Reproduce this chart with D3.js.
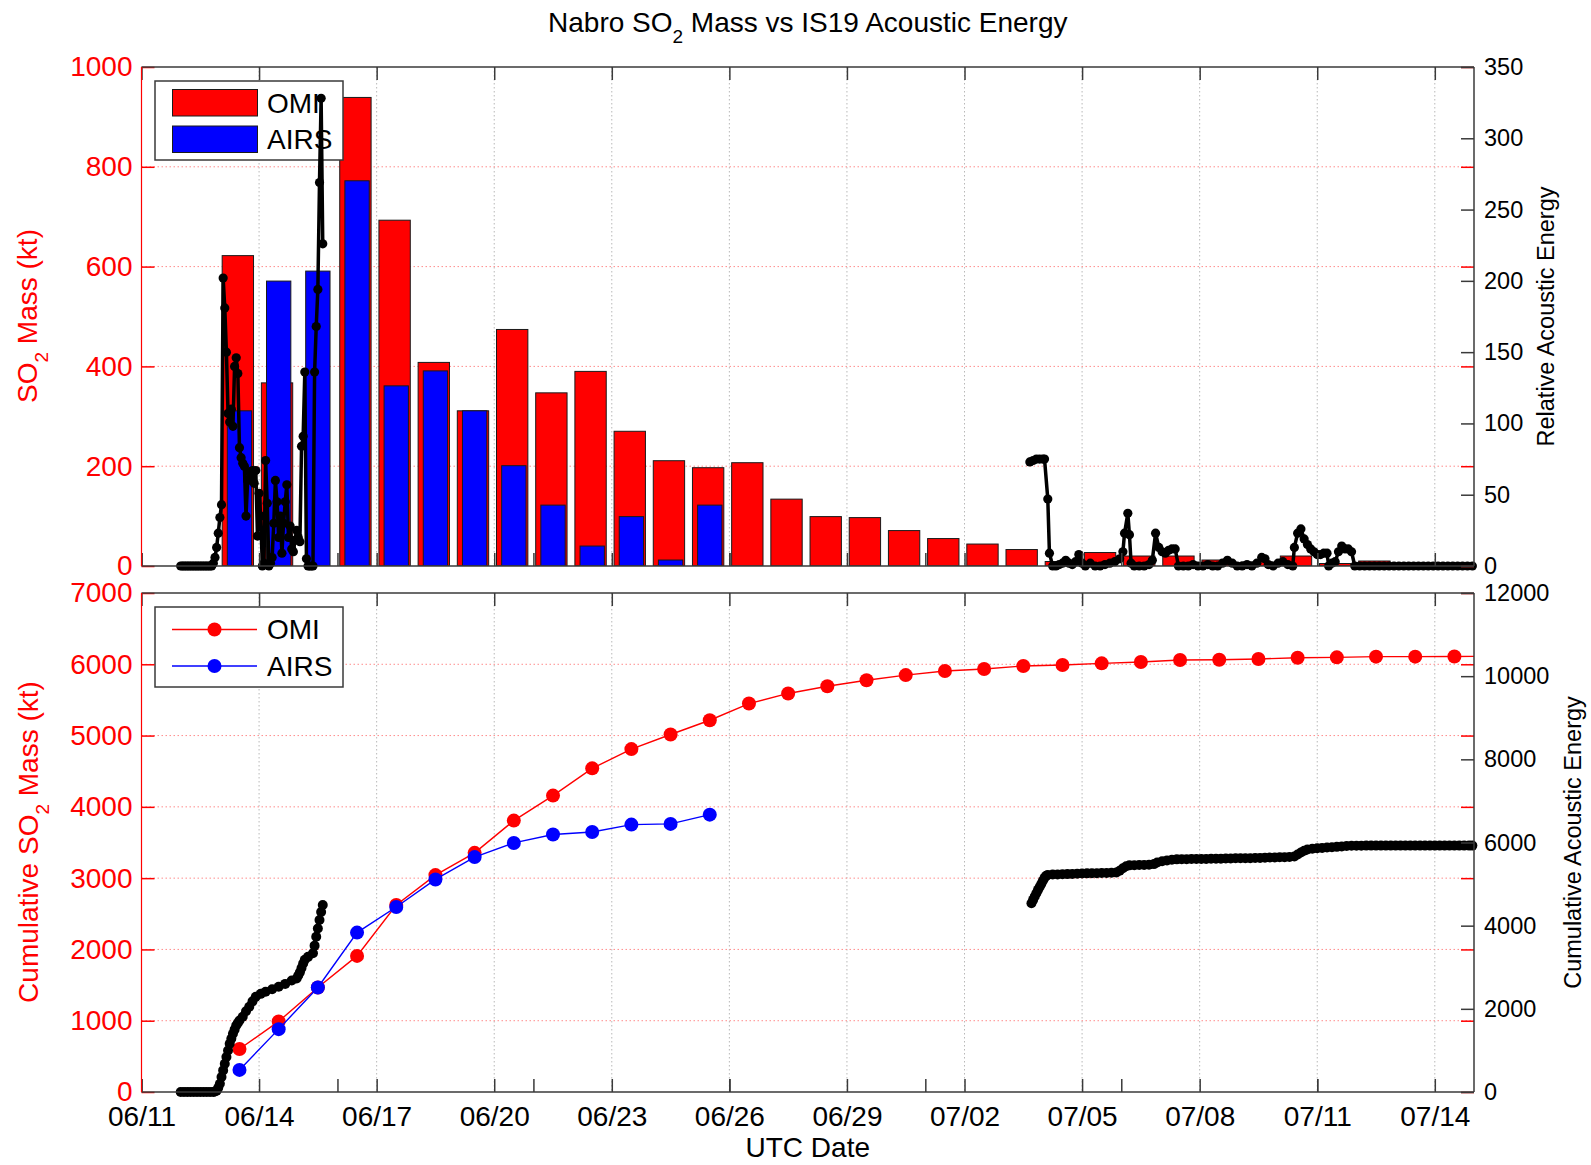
<!DOCTYPE html>
<html>
<head>
<meta charset="utf-8">
<script src="https://cdnjs.cloudflare.com/ajax/libs/d3/7.8.5/d3.min.js"></script>
<style>
	body { margin: 0; background: #fff; }
	svg { display: block; font-family: 'Liberation Sans', Arial, sans-serif; }
</style>
</head>
<body>
<div id="chart"></div>
<script>
// one entry per UTC day, SO2 mass in kt (null = no retrieval)
const barDays = ['2011-06-13', '2011-06-14', '2011-06-15', '2011-06-16', '2011-06-17', '2011-06-18',
	'2011-06-19', '2011-06-20', '2011-06-21', '2011-06-22', '2011-06-23', '2011-06-24', '2011-06-25',
	'2011-06-26', '2011-06-27', '2011-06-28', '2011-06-29', '2011-06-30', '2011-07-01', '2011-07-02',
	'2011-07-03', '2011-07-04', '2011-07-05', '2011-07-06', '2011-07-07', '2011-07-08', '2011-07-09',
	'2011-07-10', '2011-07-11', '2011-07-12', '2011-07-13', '2011-07-14', '2011-07-15']
const omiDaily = [622, 367, null, 939, 693, 408, 311, 474, 347, 390, 270, 211, 197, 207, 134, 99, 97,
	71, 55, 44, 33, 9, 27, 20, 20, 12, 8, 20, 5, 10, 0, 3, null]
const airsDaily = [311, 571, 591, 772, 361, 391, 311, 201, 122, 40, 99, 12, 122]
const omiCumulative = [603, 990, 1466, 1909, 2623, 3043, 3355, 3807, 4158, 4540, 4810, 5015, 5215,
	5449, 5591, 5691, 5776, 5848, 5905, 5933, 5976, 5989, 6013, 6032, 6060, 6064, 6074, 6092, 6097,
	6107, 6107, 6110, 6112]
const airsCumulative = [310, 882, 1466, 2236, 2595, 2982, 3295, 3494, 3612, 3648, 3751, 3761, 3891]

// IS19 acoustic energy: [hours after 2011-06-11 00:00 UTC, value]
const relEnergyJune = [[24, 0], [25, 0], [26, 0], [27, 0], [28, 0], [29, 0], [30, 0], [31, 0], [32, 0],
	[33, 0], [34, 0], [35, 0], [36, 0], [37, 0], [38, 0], [39, 0], [40, 0], [41, 0], [42, 0], [43, 0],
	[44, 2], [45, 6], [46, 13], [47, 23], [48, 34], [49, 43], [50, 202], [51, 181], [52, 150], [53, 107],
	[54, 101], [55, 110], [56, 98], [57, 140], [58, 146], [59, 135], [60, 83], [61, 76], [62, 72],
	[63, 70], [64, 35], [65, 60], [66, 66], [67, 62], [68, 67], [69, 58], [70, 67], [71, 21], [72, 51],
	[73, 35], [74, 0], [75, 2], [76, 74], [77, 44], [78, 0], [79, 2], [80, 6], [81, 30], [82, 60],
	[83, 45], [84, 20], [85, 35], [86, 9], [87, 30], [88, 45], [89, 57], [90, 20], [91, 28], [92, 12],
	[93, 10], [94, 18], [95, 25], [96, 20], [97, 17], [98, 84], [99, 91], [100, 136], [101, 5],
	[102, 0], [103, 0], [104, 0], [105, 0], [106, 136], [107, 168], [108, 194], [109, 269], [110, 328],
	[111, 226]]
const relEnergyJuly = [[544, 73], [546, 74], [548, 75], [550, 75], [552, 75], [553, 75], [555, 47],
	[556, 9], [558, 0], [560, 0], [562, 1], [564, 2], [566, 4], [568, 2], [570, 1], [572, 3], [574, 8],
	[576, 2], [578, 0], [581, 2], [584, 0], [587, 0], [590, 1], [593, 2], [596, 3], [599, 5], [601, 10],
	[602, 23], [604, 37], [605, 22], [606, 2], [608, 0], [611, 0], [614, 0], [617, 1], [619, 4],
	[621, 23], [623, 13], [625, 10], [627, 9], [629, 11], [631, 12], [633, 12], [635, 0], [638, 0],
	[641, 0], [644, 1], [647, 0], [650, 0], [653, 1], [656, 0], [659, 0], [662, 2], [665, 4], [668, 2],
	[671, 0], [674, 0], [677, 1], [680, 0], [683, 2], [686, 6], [688, 5], [690, 1], [693, 0], [696, 2],
	[699, 3], [702, 1], [705, 0], [706, 13], [708, 23], [710, 26], [712, 19], [714, 15], [716, 12],
	[718, 10], [720, 8], [722, 8], [724, 9], [726, 9], [727, 0], [729, 2], [731, 3], [733, 10],
	[735, 14], [737, 12], [739, 12], [741, 10], [743, 0], [746, 0], [749, 0], [752, 0], [755, 0],
	[758, 0], [761, 0], [764, 0], [767, 0], [770, 0], [773, 0], [776, 0], [779, 0], [782, 0], [785, 0],
	[788, 0], [791, 0], [794, 0], [797, 0], [800, 0], [803, 0], [806, 0], [809, 0], [812, 0], [815, 0]]
const cumEnergyJune = [[24, 0], [26, 0], [28, 0], [30, 0], [32, 0], [34, 0], [36, 0], [38, 0], [40, 0],
	[42, 0], [44, 0], [45, 10], [46, 30], [47, 100], [48, 200], [49, 360], [50, 520], [51, 680],
	[52, 840], [53, 1000], [54, 1160], [55, 1280], [56, 1400], [57, 1500], [58, 1600], [59, 1660],
	[60, 1720], [62, 1810], [64, 1940], [66, 2050], [68, 2180], [70, 2290], [73, 2360], [76, 2410],
	[80, 2470], [84, 2530], [88, 2600], [92, 2680], [95, 2730], [96, 2800], [97, 2880], [98, 2980],
	[99, 3090], [100, 3180], [102, 3250], [105, 3335], [106, 3520], [107, 3735], [108, 3930],
	[109, 4137], [110, 4330], [111, 4497]]
const cumEnergyJuly = [[545, 4540], [546, 4620], [547, 4700], [548, 4780], [549, 4860], [550, 4930],
	[551, 5000], [552, 5080], [553, 5150], [554, 5200], [555, 5220], [558, 5230], [561, 5232],
	[564, 5236], [567, 5240], [570, 5245], [573, 5250], [576, 5256], [579, 5258], [582, 5260],
	[585, 5262], [588, 5265], [591, 5268], [594, 5272], [597, 5280], [599, 5320], [601, 5380],
	[603, 5430], [605, 5450], [608, 5455], [611, 5457], [614, 5460], [617, 5465], [620, 5480],
	[622, 5520], [625, 5550], [628, 5570], [631, 5585], [634, 5595], [637, 5600], [640, 5600],
	[643, 5602], [646, 5604], [649, 5605], [652, 5606], [655, 5608], [658, 5610], [661, 5612],
	[664, 5614], [667, 5617], [670, 5620], [673, 5621], [676, 5622], [679, 5624], [682, 5626],
	[685, 5630], [688, 5636], [691, 5640], [694, 5642], [697, 5645], [700, 5648], [703, 5650],
	[706, 5665], [708, 5710], [710, 5760], [712, 5800], [714, 5830], [717, 5850], [720, 5860],
	[723, 5870], [726, 5880], [729, 5885], [732, 5895], [735, 5905], [738, 5915], [741, 5920],
	[744, 5922], [747, 5924], [750, 5925], [753, 5925], [756, 5925], [759, 5925], [762, 5925],
	[765, 5925], [768, 5925], [771, 5925], [774, 5925], [777, 5925], [780, 5925], [783, 5925],
	[786, 5925], [789, 5925], [792, 5925], [795, 5925], [798, 5925], [801, 5925], [804, 5925],
	[807, 5925], [810, 5925], [813, 5925], [815, 5925]]

const dateTicks = ['2011-06-11', '2011-06-14', '2011-06-17', '2011-06-20', '2011-06-23', '2011-06-26',
	'2011-06-29', '2011-07-02', '2011-07-05', '2011-07-08', '2011-07-11', '2011-07-14']
const energyDateTicks = ['2011-06-11', '2011-06-16', '2011-06-21', '2011-06-26', '2011-07-01',
	'2011-07-06', '2011-07-11']
const massTicks = [0, 200, 400, 600, 800, 1000]
const relEnergyTicks = [0, 50, 100, 150, 200, 250, 300, 350]
const cumMassTicks = [0, 1000, 2000, 3000, 4000, 5000, 6000, 7000]
const cumEnergyTicks = [0, 2000, 4000, 6000, 8000, 10000, 12000]

const W = 1591
const H = 1165
const left = 141.5
const right = 1474
const topPanel = { y0: 67, y1: 566 }
const botPanel = { y0: 593, y1: 1092 }
const frameColor = '#3a3a3a'
const plain = d3.format('d')

const hourZero = Date.UTC(2011, 5, 11)
function hourDate(h) {
	return new Date(hourZero + h * 3600000)
}
function dayDate(s) {
	return new Date(s + 'T00:00:00Z')
}
function dayHour(s, h) {
	return new Date(dayDate(s).getTime() + h * 3600000)
}

const x = d3.scaleUtc()
	.domain([dayDate('2011-06-11'), dayDate('2011-07-15')])
	.range([left, right])
const yMass = d3.scaleLinear().domain([0, 1000]).range([topPanel.y1, topPanel.y0])
const yRel = d3.scaleLinear().domain([0, 350]).range([topPanel.y1, topPanel.y0])
const yCumMass = d3.scaleLinear().domain([0, 7000]).range([botPanel.y1, botPanel.y0])
const yCumEnergy = d3.scaleLinear().domain([0, 12000]).range([botPanel.y1, botPanel.y0])

const svg = d3.select('#chart')
	.append('svg')
	.attr('width', W)
	.attr('height', H)

const defs = svg.append('defs')
defs.append('clipPath').attr('id', 'clipTop')
	.append('rect')
	.attr('x', left).attr('y', topPanel.y0)
	.attr('width', right - left).attr('height', topPanel.y1 - topPanel.y0)
defs.append('clipPath').attr('id', 'clipBot')
	.append('rect')
	.attr('x', left).attr('y', botPanel.y0)
	.attr('width', right - left).attr('height', botPanel.y1 - botPanel.y0)

// title
const title = svg.append('text')
	.attr('x', (left + right) / 2)
	.attr('y', 32)
	.attr('text-anchor', 'middle')
	.attr('font-size', 28)
	.attr('fill', '#000')
title.append('tspan').text('Nabro SO')
title.append('tspan').attr('font-size', 19).attr('dy', 11).text('2')
title.append('tspan').attr('dy', -11).text(' Mass vs IS19 Acoustic Energy')

function drawGrid(panel, yScale, yTicks) {
	const g = svg.append('g')
	for (let i = 1; i < dateTicks.length; i++) {
		const xv = x(dayDate(dateTicks[i]))
		g.append('line')
			.attr('x1', xv).attr('x2', xv)
			.attr('y1', panel.y0).attr('y2', panel.y1)
			.attr('stroke', '#b8b8b8')
			.attr('stroke-width', 1)
			.attr('stroke-dasharray', '1.5,2.5')
	}
	for (let i = 1; i < yTicks.length - 1; i++) {
		const yv = yScale(yTicks[i])
		g.append('line')
			.attr('x1', left).attr('x2', right)
			.attr('y1', yv).attr('y2', yv)
			.attr('stroke', '#ff8c8c')
			.attr('stroke-width', 1)
			.attr('stroke-dasharray', '1.5,2.5')
	}
}

function styleAxis(g, color, size) {
	g.select('.domain').remove()
	g.attr('font-family', null).attr('font-size', size)
	g.selectAll('line').attr('stroke', color).attr('stroke-width', 1.5)
	g.selectAll('text').attr('fill', color)
}

function drawFrame(panel, yLeft, yLeftTicks, yRight, yRightTicks, showDates) {
	// bottom: 3-day date ticks plus the 5-day ticks of the acoustic axes
	const bottom = svg.append('g')
		.attr('transform', 'translate(0,' + panel.y1 + ')')
		.call(d3.axisBottom(x)
			.tickValues(dateTicks.map(dayDate))
			.tickSize(-13)
			.tickPadding(14)
			.tickFormat(showDates ? d3.utcFormat('%m/%d') : ''))
	styleAxis(bottom, frameColor, 28)
	bottom.selectAll('text').attr('fill', '#000')
	const bottom2 = svg.append('g')
		.attr('transform', 'translate(0,' + panel.y1 + ')')
		.call(d3.axisBottom(x)
			.tickValues(energyDateTicks.map(dayDate))
			.tickSize(-13)
			.tickFormat(''))
	styleAxis(bottom2, frameColor, 28)
	const topAx = svg.append('g')
		.attr('transform', 'translate(0,' + panel.y0 + ')')
		.call(d3.axisTop(x)
			.tickValues(dateTicks.map(dayDate))
			.tickSize(-13)
			.tickFormat(''))
	styleAxis(topAx, frameColor, 28)

	const leftAx = svg.append('g')
		.attr('transform', 'translate(' + left + ',0)')
		.call(d3.axisLeft(yLeft).tickValues(yLeftTicks).tickSize(-13).tickPadding(9).tickFormat(plain))
	styleAxis(leftAx, '#ff0000', 28)
	const rightRed = svg.append('g')
		.attr('transform', 'translate(' + right + ',0)')
		.call(d3.axisRight(yLeft).tickValues(yLeftTicks).tickSize(-13).tickFormat(''))
	styleAxis(rightRed, '#ff0000', 28)
	const rightAx = svg.append('g')
		.attr('transform', 'translate(' + right + ',0)')
		.call(d3.axisRight(yRight).tickValues(yRightTicks).tickSize(-13).tickPadding(10).tickFormat(plain))
	styleAxis(rightAx, frameColor, 23.5)
	rightAx.selectAll('text').attr('fill', '#000')

	svg.append('line')
		.attr('x1', left).attr('x2', right).attr('y1', panel.y0).attr('y2', panel.y0)
		.attr('stroke', frameColor).attr('stroke-width', 1.5)
	svg.append('line')
		.attr('x1', left).attr('x2', right).attr('y1', panel.y1).attr('y2', panel.y1)
		.attr('stroke', frameColor).attr('stroke-width', 1.5)
	svg.append('line')
		.attr('x1', right).attr('x2', right).attr('y1', panel.y0).attr('y2', panel.y1)
		.attr('stroke', frameColor).attr('stroke-width', 1.5)
	svg.append('line')
		.attr('x1', left).attr('x2', left).attr('y1', panel.y0).attr('y2', panel.y1)
		.attr('stroke', '#ff0000').attr('stroke-width', 1.2)
}

function drawEnergy(series, yScale, r) {
	const line = d3.line()
		.x(function(d) { return x(hourDate(d[0])) })
		.y(function(d) { return yScale(d[1]) })
	const g = svg.append('g')
	g.append('path')
		.attr('d', line(series))
		.attr('fill', 'none')
		.attr('stroke', '#000')
		.attr('stroke-width', 3.5)
		.attr('stroke-linejoin', 'round')
	g.selectAll('circle')
		.data(series)
		.join('circle')
		.attr('cx', function(d) { return x(hourDate(d[0])) })
		.attr('cy', function(d) { return yScale(d[1]) })
		.attr('r', r)
		.attr('fill', '#000')
}

// ---------- top panel: daily mass bars + relative acoustic energy ----------
drawGrid(topPanel, yMass, massTicks)

const bars = svg.append('g').attr('clip-path', 'url(#clipTop)')
const omiBars = barDays.map(function(d, i) { return { day: d, v: omiDaily[i] } })
	.filter(function(d) { return d.v !== null })
const airsBars = airsDaily.map(function(v, i) { return { day: barDays[i], v: v } })
bars.selectAll('.omi')
	.data(omiBars)
	.join('rect')
	.attr('class', 'omi')
	.attr('x', function(d) { return x(dayHour(d.day, 1.4)) })
	.attr('width', function(d) { return x(dayHour(d.day, 20.6)) - x(dayHour(d.day, 1.4)) })
	.attr('y', function(d) { return yMass(d.v) })
	.attr('height', function(d) { return yMass(0) - yMass(d.v) })
	.attr('fill', '#ff0000')
	.attr('stroke', '#1a1a1a')
	.attr('stroke-width', 1)
bars.selectAll('.airs')
	.data(airsBars)
	.join('rect')
	.attr('class', 'airs')
	.attr('x', function(d) { return x(dayHour(d.day, 4.55)) })
	.attr('width', function(d) { return x(dayHour(d.day, 19.45)) - x(dayHour(d.day, 4.55)) })
	.attr('y', function(d) { return yMass(d.v) })
	.attr('height', function(d) { return yMass(0) - yMass(d.v) })
	.attr('fill', '#0000ff')
	.attr('stroke', '#1a1a1a')
	.attr('stroke-width', 1)

// legend for bars
const legTop = svg.append('g')
legTop.append('rect')
	.attr('x', 155).attr('y', 81).attr('width', 188).attr('height', 79)
	.attr('fill', '#fff').attr('stroke', frameColor).attr('stroke-width', 1.5)
const barLegend = [{ name: 'OMI', color: '#ff0000' }, { name: 'AIRS', color: '#0000ff' }]
for (let i = 0; i < barLegend.length; i++) {
	legTop.append('rect')
		.attr('x', 172.5).attr('y', 89.5 + i * 36.5).attr('width', 85).attr('height', 26.5)
		.attr('fill', barLegend[i].color).attr('stroke', '#1a1a1a').attr('stroke-width', 1)
	legTop.append('text')
		.attr('x', 267).attr('y', 103 + i * 36.5).attr('dy', '0.35em')
		.attr('font-size', 28).attr('fill', '#000')
		.text(barLegend[i].name)
}

drawEnergy(relEnergyJune, yRel, 4.6)
drawEnergy(relEnergyJuly, yRel, 4.6)
drawFrame(topPanel, yMass, massTicks, yRel, relEnergyTicks, false)

// ---------- bottom panel: cumulative mass + cumulative acoustic energy ----------
drawGrid(botPanel, yCumMass, cumMassTicks)

const cumLine = d3.line()
	.x(function(d) { return x(dayHour(d.day, 12)) })
	.y(function(d) { return yCumMass(d.v) })
const cumSeries = [
	{ name: 'OMI', color: '#ff0000', values: omiCumulative },
	{ name: 'AIRS', color: '#0000ff', values: airsCumulative }
]
const cumG = svg.append('g').attr('clip-path', 'url(#clipBot)')
for (let s = 0; s < cumSeries.length; s++) {
	const pts = cumSeries[s].values.map(function(v, i) { return { day: barDays[i], v: v } })
	cumG.append('path')
		.attr('d', cumLine(pts))
		.attr('fill', 'none')
		.attr('stroke', cumSeries[s].color)
		.attr('stroke-width', 1.4)
	cumG.selectAll('.pt' + s)
		.data(pts)
		.join('circle')
		.attr('class', 'pt' + s)
		.attr('cx', cumLine.x())
		.attr('cy', cumLine.y())
		.attr('r', 7)
		.attr('fill', cumSeries[s].color)
}

const legBot = svg.append('g')
legBot.append('rect')
	.attr('x', 155).attr('y', 607).attr('width', 188).attr('height', 80)
	.attr('fill', '#fff').attr('stroke', frameColor).attr('stroke-width', 1.5)
for (let i = 0; i < cumSeries.length; i++) {
	const ly = 629.5 + i * 36.5
	legBot.append('line')
		.attr('x1', 172).attr('x2', 257).attr('y1', ly).attr('y2', ly)
		.attr('stroke', cumSeries[i].color).attr('stroke-width', 1.4)
	legBot.append('circle')
		.attr('cx', 214.5).attr('cy', ly).attr('r', 7)
		.attr('fill', cumSeries[i].color)
	legBot.append('text')
		.attr('x', 267).attr('y', ly).attr('dy', '0.35em')
		.attr('font-size', 28).attr('fill', '#000')
		.text(cumSeries[i].name)
}

drawEnergy(cumEnergyJune, yCumEnergy, 5)
drawEnergy(cumEnergyJuly, yCumEnergy, 5)
drawFrame(botPanel, yCumMass, cumMassTicks, yCumEnergy, cumEnergyTicks, true)

// ---------- axis titles ----------
function leftLabel(cx, cy, before, after) {
	const t = svg.append('text')
		.attr('transform', 'translate(' + cx + ',' + cy + ') rotate(-90)')
		.attr('text-anchor', 'middle')
		.attr('font-size', 28)
		.attr('fill', '#ff0000')
	t.append('tspan').text(before + 'SO')
	t.append('tspan').attr('font-size', 19).attr('dy', 11).text('2')
	t.append('tspan').attr('dy', -11).text(after)
}
leftLabel(37, 316, '', ' Mass (kt)')
leftLabel(38, 842, 'Cumulative ', ' Mass (kt)')

svg.append('text')
	.attr('transform', 'translate(1554,' + ((topPanel.y0 + topPanel.y1) / 2) + ') rotate(-90)')
	.attr('text-anchor', 'middle')
	.attr('font-size', 23.5)
	.attr('fill', '#000')
	.text('Relative Acoustic Energy')
svg.append('text')
	.attr('transform', 'translate(1581,' + ((botPanel.y0 + botPanel.y1) / 2) + ') rotate(-90)')
	.attr('text-anchor', 'middle')
	.attr('font-size', 23.5)
	.attr('fill', '#000')
	.text('Cumulative Acoustic Energy')

svg.append('text')
	.attr('x', (left + right) / 2)
	.attr('y', 1157)
	.attr('text-anchor', 'middle')
	.attr('font-size', 28)
	.attr('fill', '#000')
	.text('UTC Date')
</script>
</body>
</html>
